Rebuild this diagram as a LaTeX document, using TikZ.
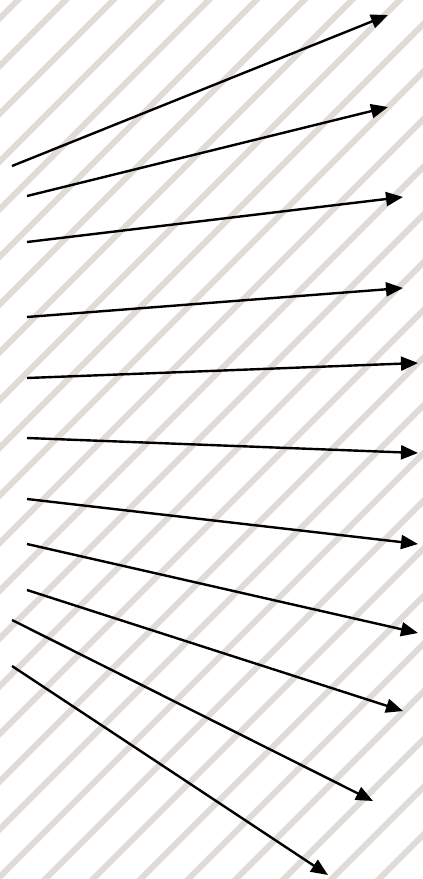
\documentclass[tikz,border=0pt]{standalone}
\usetikzlibrary{arrows.meta}
\definecolor{stripecol}{RGB}{223,220,215}
\tikzset{
  stripe/.style={draw=stripecol,line width=6pt},
  ray/.style={draw=black,line width=2.4pt,-{Triangle[length=17pt,width=14pt]}}
}
\begin{document}
\begin{tikzpicture}[x=1pt,y=-1pt]
\useasboundingbox (0,0) rectangle (423,879);
\fill[white] (0,0) rectangle (423,879);
\begin{scope}
\clip (0,0) rectangle (423,879);
\foreach \k in {-1,...,28}{
  \pgfmathsetmacro{\c}{18+47.7*\k}
  \draw[stripe] (\c,0) -- ({\c-900},900);
  \draw[stripe] (\c,0) -- ({\c+30},-30);
}
\end{scope}
% start and end coordinates
\coordinate (s1) at (12,166);  \coordinate (t1) at (388,15);
\coordinate (s2) at (27,196);  \coordinate (t2) at (388,107);
\coordinate (s3) at (27,242);  \coordinate (t3) at (403,197);
\coordinate (s4) at (27,317);  \coordinate (t4) at (403,288);
\coordinate (s5) at (27,378);  \coordinate (t5) at (418,363);
\coordinate (s6) at (27,438);  \coordinate (t6) at (418,453);
\coordinate (s7) at (27,499);  \coordinate (t7) at (418,544);
\coordinate (s8) at (27,544);  \coordinate (t8) at (418,633);
\coordinate (s9) at (27,590);  \coordinate (t9) at (403,711);
\coordinate (s10) at (12,620); \coordinate (t10) at (373,801);
\coordinate (s11) at (12,666); \coordinate (t11) at (328,875);
\foreach \i in {1,...,11}{
  \draw[ray] (s\i) -- (t\i);
}
\end{tikzpicture}
\end{document}
